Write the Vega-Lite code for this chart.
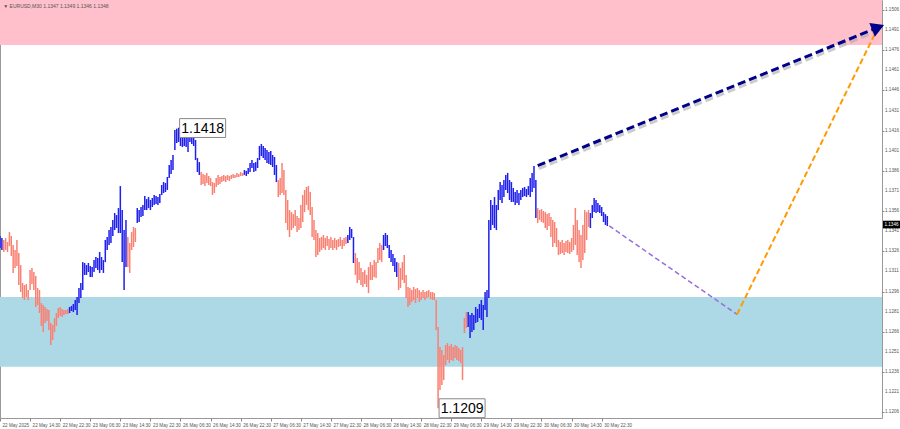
{
  "$schema": "https://vega.github.io/schema/vega-lite/v6.json",
  "autosize": "none",
  "padding": {"left": 0, "top": 0, "right": 18, "bottom": 11},
  "width": 882,
  "height": 418,
  "background": "white",
  "view": {"stroke": "#999999", "strokeWidth": 1},
  "title": {"text": "▼ EURUSD,M30  1.1347 1.1349 1.1346 1.1348", "anchor": "start", "orient": "top", "offset": -9, "dx": 4, "fontSize": 5, "font": "Liberation Sans", "fontWeight": "normal", "color": "#555555"},
  "config": {"font": "Liberation Sans", "axis": {"labelOverlap": false, "labelFlush": false, "labelBound": false}},
  "datasets": {
    "zones": [
      {"zone": "target", "lo": 1.1480, "hi": 1.1525},
      {"zone": "support", "lo": 1.1240, "hi": 1.1292}
    ],
    "yticks": [
      {"p": 1.1206}, {"p": 1.1221}, {"p": 1.1236}, {"p": 1.1251}, {"p": 1.1266}, {"p": 1.1281}, {"p": 1.1296}, {"p": 1.1311}, {"p": 1.1326}, {"p": 1.1341}, {"p": 1.1356},
      {"p": 1.1371}, {"p": 1.1386}, {"p": 1.1401}, {"p": 1.1416}, {"p": 1.1431}, {"p": 1.1446}, {"p": 1.1461}, {"p": 1.1476}, {"p": 1.1491}, {"p": 1.1506}
    ],
    "bars": [
      {"i":0,"h":1.13375,"l":1.13285,"w":"u"},{"i":1,"h":1.13360,"l":1.13270,"w":"u"},{"i":2,"h":1.13345,"l":1.13255,"w":"d"},{"i":3,"h":1.13360,"l":1.13270,"w":"d"},{"i":4,"h":1.13330,"l":1.13255,"w":"d"},{"i":5,"h":1.13404,"l":1.13300,"w":"d"},{"i":6,"h":1.13375,"l":1.13226,"w":"d"},{"i":7,"h":1.13307,"l":1.13099,"w":"d"},{"i":8,"h":1.13270,"l":1.13136,"w":"d"},{"i":9,"h":1.13345,"l":1.13151,"w":"d"},
      {"i":10,"h":1.13248,"l":1.13009,"w":"d"},{"i":11,"h":1.13158,"l":1.12957,"w":"d"},{"i":12,"h":1.13024,"l":1.12912,"w":"d"},{"i":13,"h":1.13009,"l":1.12897,"w":"d"},{"i":14,"h":1.13016,"l":1.12919,"w":"d"},{"i":15,"h":1.12972,"l":1.12897,"w":"d"},{"i":16,"h":1.13121,"l":1.12972,"w":"d"},{"i":17,"h":1.13136,"l":1.13016,"w":"d"},{"i":18,"h":1.13106,"l":1.12972,"w":"d"},{"i":19,"h":1.13077,"l":1.12845,"w":"d"},
      {"i":20,"h":1.12987,"l":1.12860,"w":"d"},{"i":21,"h":1.12972,"l":1.12800,"w":"d"},{"i":22,"h":1.12875,"l":1.12704,"w":"d"},{"i":23,"h":1.12860,"l":1.12658,"w":"d"},{"i":24,"h":1.12845,"l":1.12726,"w":"d"},{"i":25,"h":1.12830,"l":1.12741,"w":"d"},{"i":26,"h":1.12822,"l":1.12673,"w":"d"},{"i":27,"h":1.12726,"l":1.12561,"w":"d"},{"i":28,"h":1.12711,"l":1.12599,"w":"d"},{"i":29,"h":1.12763,"l":1.12658,"w":"d"},
      {"i":30,"h":1.12800,"l":1.12704,"w":"d"},{"i":31,"h":1.12838,"l":1.12763,"w":"d"},{"i":32,"h":1.12845,"l":1.12778,"w":"d"},{"i":33,"h":1.12830,"l":1.12770,"w":"d"},{"i":34,"h":1.12822,"l":1.12785,"w":"d"},{"i":35,"h":1.12822,"l":1.12792,"w":"d"},{"i":36,"h":1.12830,"l":1.12792,"w":"d"},{"i":37,"h":1.12845,"l":1.12800,"w":"u"},{"i":38,"h":1.12853,"l":1.12815,"w":"u"},{"i":39,"h":1.12867,"l":1.12807,"w":"u"},
      {"i":40,"h":1.12897,"l":1.12822,"w":"u"},{"i":41,"h":1.12919,"l":1.12785,"w":"u"},{"i":42,"h":1.12987,"l":1.12875,"w":"u"},{"i":43,"h":1.13024,"l":1.12912,"w":"u"},{"i":44,"h":1.13180,"l":1.12972,"w":"u"},{"i":45,"h":1.13173,"l":1.13084,"w":"u"},{"i":46,"h":1.13158,"l":1.13084,"w":"u"},{"i":47,"h":1.13173,"l":1.13106,"w":"u"},{"i":48,"h":1.13151,"l":1.13069,"w":"u"},{"i":49,"h":1.13143,"l":1.13069,"w":"u"},
      {"i":50,"h":1.13195,"l":1.13106,"w":"u"},{"i":51,"h":1.13218,"l":1.13136,"w":"u"},{"i":52,"h":1.13210,"l":1.13121,"w":"u"},{"i":53,"h":1.13255,"l":1.13099,"w":"u"},{"i":54,"h":1.13218,"l":1.13121,"w":"u"},{"i":55,"h":1.13195,"l":1.13099,"w":"u"},{"i":56,"h":1.13345,"l":1.13180,"w":"u"},{"i":57,"h":1.13367,"l":1.13270,"w":"u"},{"i":58,"h":1.13419,"l":1.13307,"w":"u"},{"i":59,"h":1.13442,"l":1.13322,"w":"u"},
      {"i":60,"h":1.13494,"l":1.13375,"w":"u"},{"i":61,"h":1.13546,"l":1.13419,"w":"u"},{"i":62,"h":1.13531,"l":1.13434,"w":"u"},{"i":63,"h":1.13583,"l":1.13397,"w":"u"},{"i":64,"h":1.13747,"l":1.13397,"w":"u"},{"i":65,"h":1.13568,"l":1.13180,"w":"u"},{"i":66,"h":1.13419,"l":1.12972,"w":"u"},{"i":67,"h":1.13494,"l":1.13143,"w":"u"},{"i":68,"h":1.13367,"l":1.13143,"w":"d"},{"i":69,"h":1.13322,"l":1.13099,"w":"d"},
      {"i":70,"h":1.13404,"l":1.13270,"w":"d"},{"i":71,"h":1.13442,"l":1.13292,"w":"d"},{"i":72,"h":1.13434,"l":1.13330,"w":"d"},{"i":73,"h":1.13583,"l":1.13472,"w":"u"},{"i":74,"h":1.13568,"l":1.13479,"w":"u"},{"i":75,"h":1.13591,"l":1.13516,"w":"u"},{"i":76,"h":1.13606,"l":1.13524,"w":"u"},{"i":77,"h":1.13673,"l":1.13568,"w":"u"},{"i":78,"h":1.13650,"l":1.13568,"w":"u"},{"i":79,"h":1.13665,"l":1.13583,"w":"u"},
      {"i":80,"h":1.13643,"l":1.13568,"w":"u"},{"i":81,"h":1.13658,"l":1.13591,"w":"u"},{"i":82,"h":1.13680,"l":1.13606,"w":"u"},{"i":83,"h":1.13673,"l":1.13613,"w":"u"},{"i":84,"h":1.13665,"l":1.13606,"w":"u"},{"i":85,"h":1.13688,"l":1.13621,"w":"u"},{"i":86,"h":1.13755,"l":1.13680,"w":"u"},{"i":87,"h":1.13777,"l":1.13695,"w":"u"},{"i":88,"h":1.13770,"l":1.13703,"w":"u"},{"i":89,"h":1.13815,"l":1.13718,"w":"u"},
      {"i":90,"h":1.13904,"l":1.13807,"w":"u"},{"i":91,"h":1.13941,"l":1.13837,"w":"u"},{"i":92,"h":1.13979,"l":1.13867,"w":"u"},{"i":93,"h":1.14165,"l":1.14016,"w":"u"},{"i":94,"h":1.14175,"l":1.14068,"w":"u"},{"i":95,"h":1.14182,"l":1.14076,"w":"u"},{"i":96,"h":1.14150,"l":1.14046,"w":"u"},{"i":97,"h":1.14128,"l":1.14038,"w":"u"},{"i":98,"h":1.14135,"l":1.14046,"w":"u"},{"i":99,"h":1.14120,"l":1.14038,"w":"u"},
      {"i":100,"h":1.14113,"l":1.14001,"w":"u"},{"i":101,"h":1.14165,"l":1.14076,"w":"u"},{"i":102,"h":1.14150,"l":1.14061,"w":"u"},{"i":103,"h":1.14128,"l":1.14046,"w":"u"},{"i":104,"h":1.14091,"l":1.13941,"w":"u"},{"i":105,"h":1.13956,"l":1.13852,"w":"u"},{"i":106,"h":1.13926,"l":1.13830,"w":"u"},{"i":107,"h":1.13852,"l":1.13755,"w":"d"},{"i":108,"h":1.13837,"l":1.13762,"w":"d"},{"i":109,"h":1.13830,"l":1.13747,"w":"d"},
      {"i":110,"h":1.13845,"l":1.13770,"w":"d"},{"i":111,"h":1.13822,"l":1.13755,"w":"d"},{"i":112,"h":1.13807,"l":1.13747,"w":"d"},{"i":113,"h":1.13777,"l":1.13680,"w":"d"},{"i":114,"h":1.13770,"l":1.13695,"w":"d"},{"i":115,"h":1.13807,"l":1.13740,"w":"d"},{"i":116,"h":1.13830,"l":1.13755,"w":"d"},{"i":117,"h":1.13815,"l":1.13762,"w":"d"},{"i":118,"h":1.13822,"l":1.13777,"w":"d"},{"i":119,"h":1.13830,"l":1.13785,"w":"d"},
      {"i":120,"h":1.13822,"l":1.13777,"w":"d"},{"i":121,"h":1.13830,"l":1.13792,"w":"d"},{"i":122,"h":1.13822,"l":1.13785,"w":"d"},{"i":123,"h":1.13830,"l":1.13800,"w":"d"},{"i":124,"h":1.13837,"l":1.13807,"w":"d"},{"i":125,"h":1.13830,"l":1.13807,"w":"d"},{"i":126,"h":1.13845,"l":1.13815,"w":"d"},{"i":127,"h":1.13837,"l":1.13815,"w":"d"},{"i":128,"h":1.13852,"l":1.13822,"w":"d"},{"i":129,"h":1.13845,"l":1.13822,"w":"d"},
      {"i":130,"h":1.13867,"l":1.13830,"w":"u"},{"i":131,"h":1.13860,"l":1.13822,"w":"u"},{"i":132,"h":1.13882,"l":1.13837,"w":"u"},{"i":133,"h":1.13919,"l":1.13852,"w":"u"},{"i":134,"h":1.13941,"l":1.13882,"w":"u"},{"i":135,"h":1.13919,"l":1.13852,"w":"u"},{"i":136,"h":1.13926,"l":1.13860,"w":"u"},{"i":137,"h":1.13956,"l":1.13882,"w":"u"},{"i":138,"h":1.14046,"l":1.13941,"w":"u"},{"i":139,"h":1.14061,"l":1.13971,"w":"u"},
      {"i":140,"h":1.14046,"l":1.13956,"w":"u"},{"i":141,"h":1.14031,"l":1.13941,"w":"u"},{"i":142,"h":1.14016,"l":1.13919,"w":"u"},{"i":143,"h":1.14001,"l":1.13911,"w":"u"},{"i":144,"h":1.14009,"l":1.13904,"w":"u"},{"i":145,"h":1.13979,"l":1.13889,"w":"u"},{"i":146,"h":1.13964,"l":1.13830,"w":"u"},{"i":147,"h":1.13904,"l":1.13777,"w":"u"},{"i":148,"h":1.13792,"l":1.13665,"w":"d"},{"i":149,"h":1.13807,"l":1.13680,"w":"d"},
      {"i":150,"h":1.13919,"l":1.13695,"w":"d"},{"i":151,"h":1.13867,"l":1.13680,"w":"d"},{"i":152,"h":1.13718,"l":1.13472,"w":"d"},{"i":153,"h":1.13643,"l":1.13419,"w":"d"},{"i":154,"h":1.13568,"l":1.13367,"w":"d"},{"i":155,"h":1.13553,"l":1.13419,"w":"d"},{"i":156,"h":1.13538,"l":1.13434,"w":"d"},{"i":157,"h":1.13568,"l":1.13449,"w":"d"},{"i":158,"h":1.13524,"l":1.13404,"w":"d"},{"i":159,"h":1.13509,"l":1.13419,"w":"d"},
      {"i":160,"h":1.13606,"l":1.13434,"w":"d"},{"i":161,"h":1.13680,"l":1.13479,"w":"d"},{"i":162,"h":1.13718,"l":1.13553,"w":"d"},{"i":163,"h":1.13740,"l":1.13606,"w":"d"},{"i":164,"h":1.13747,"l":1.13568,"w":"d"},{"i":165,"h":1.13703,"l":1.13531,"w":"d"},{"i":166,"h":1.13591,"l":1.13367,"w":"d"},{"i":167,"h":1.13494,"l":1.13345,"w":"d"},{"i":168,"h":1.13419,"l":1.13218,"w":"d"},{"i":169,"h":1.13397,"l":1.13233,"w":"d"},
      {"i":170,"h":1.13360,"l":1.13255,"w":"d"},{"i":171,"h":1.13367,"l":1.13270,"w":"d"},{"i":172,"h":1.13382,"l":1.13285,"w":"d"},{"i":173,"h":1.13360,"l":1.13270,"w":"d"},{"i":174,"h":1.13375,"l":1.13300,"w":"d"},{"i":175,"h":1.13352,"l":1.13270,"w":"d"},{"i":176,"h":1.13367,"l":1.13285,"w":"d"},{"i":177,"h":1.13345,"l":1.13270,"w":"d"},{"i":178,"h":1.13360,"l":1.13285,"w":"d"},{"i":179,"h":1.13345,"l":1.13270,"w":"d"},
      {"i":180,"h":1.13352,"l":1.13292,"w":"d"},{"i":181,"h":1.13367,"l":1.13300,"w":"d"},{"i":182,"h":1.13345,"l":1.13277,"w":"d"},{"i":183,"h":1.13360,"l":1.13300,"w":"d"},{"i":184,"h":1.13367,"l":1.13315,"w":"d"},{"i":185,"h":1.13382,"l":1.13322,"w":"u"},{"i":186,"h":1.13442,"l":1.13345,"w":"u"},{"i":187,"h":1.13427,"l":1.13360,"w":"u"},{"i":188,"h":1.13367,"l":1.13173,"w":"u"},{"i":189,"h":1.13248,"l":1.13084,"w":"d"},
      {"i":190,"h":1.13210,"l":1.13024,"w":"d"},{"i":191,"h":1.13180,"l":1.13046,"w":"d"},{"i":192,"h":1.13136,"l":1.13009,"w":"d"},{"i":193,"h":1.13106,"l":1.12994,"w":"d"},{"i":194,"h":1.13121,"l":1.13016,"w":"d"},{"i":195,"h":1.13084,"l":1.12994,"w":"d"},{"i":196,"h":1.13143,"l":1.12949,"w":"d"},{"i":197,"h":1.13180,"l":1.13046,"w":"d"},{"i":198,"h":1.13158,"l":1.13046,"w":"d"},{"i":199,"h":1.13195,"l":1.13069,"w":"d"},
      {"i":200,"h":1.13180,"l":1.13061,"w":"d"},{"i":201,"h":1.13285,"l":1.13173,"w":"d"},{"i":202,"h":1.13322,"l":1.13195,"w":"d"},{"i":203,"h":1.13307,"l":1.13180,"w":"d"},{"i":204,"h":1.13382,"l":1.13270,"w":"u"},{"i":205,"h":1.13397,"l":1.13300,"w":"u"},{"i":206,"h":1.13382,"l":1.13285,"w":"u"},{"i":207,"h":1.13307,"l":1.13210,"w":"u"},{"i":208,"h":1.13270,"l":1.13180,"w":"u"},{"i":209,"h":1.13240,"l":1.13151,"w":"u"},
      {"i":210,"h":1.13210,"l":1.13106,"w":"u"},{"i":211,"h":1.13180,"l":1.13069,"w":"u"},{"i":212,"h":1.13173,"l":1.12972,"w":"d"},{"i":213,"h":1.13136,"l":1.12987,"w":"d"},{"i":214,"h":1.13180,"l":1.13046,"w":"d"},{"i":215,"h":1.13233,"l":1.13024,"w":"d"},{"i":216,"h":1.13084,"l":1.12912,"w":"d"},{"i":217,"h":1.12994,"l":1.12845,"w":"d"},{"i":218,"h":1.12987,"l":1.12860,"w":"d"},{"i":219,"h":1.12972,"l":1.12882,"w":"d"},
      {"i":220,"h":1.12994,"l":1.12897,"w":"d"},{"i":221,"h":1.12979,"l":1.12875,"w":"d"},{"i":222,"h":1.12987,"l":1.12912,"w":"d"},{"i":223,"h":1.12972,"l":1.12882,"w":"d"},{"i":224,"h":1.12957,"l":1.12897,"w":"d"},{"i":225,"h":1.12972,"l":1.12912,"w":"d"},{"i":226,"h":1.12957,"l":1.12897,"w":"d"},{"i":227,"h":1.12964,"l":1.12912,"w":"d"},{"i":228,"h":1.12972,"l":1.12919,"w":"d"},{"i":229,"h":1.12957,"l":1.12904,"w":"d"},
      {"i":230,"h":1.12957,"l":1.12897,"w":"d"},{"i":231,"h":1.12949,"l":1.12897,"w":"d"},{"i":232,"h":1.12897,"l":1.12673,"w":"d"},{"i":233,"h":1.12696,"l":1.12090,"w":"d"},{"i":234,"h":1.12546,"l":1.12226,"w":"d"},{"i":235,"h":1.12524,"l":1.12263,"w":"d"},{"i":236,"h":1.12487,"l":1.12300,"w":"d"},{"i":237,"h":1.12561,"l":1.12412,"w":"d"},{"i":238,"h":1.12576,"l":1.12449,"w":"d"},{"i":239,"h":1.12554,"l":1.12427,"w":"d"},
      {"i":240,"h":1.12569,"l":1.12449,"w":"d"},{"i":241,"h":1.12546,"l":1.12442,"w":"d"},{"i":242,"h":1.12561,"l":1.12464,"w":"d"},{"i":243,"h":1.12554,"l":1.12449,"w":"d"},{"i":244,"h":1.12539,"l":1.12442,"w":"d"},{"i":245,"h":1.12524,"l":1.12427,"w":"d"},{"i":246,"h":1.12546,"l":1.12300,"w":"d"},{"i":247,"h":1.12763,"l":1.12651,"w":"d"},{"i":248,"h":1.12807,"l":1.12688,"w":"d"},{"i":249,"h":1.12807,"l":1.12696,"w":"u"},
      {"i":250,"h":1.12785,"l":1.12614,"w":"u"},{"i":251,"h":1.12800,"l":1.12658,"w":"u"},{"i":252,"h":1.12785,"l":1.12673,"w":"u"},{"i":253,"h":1.12845,"l":1.12726,"w":"u"},{"i":254,"h":1.12830,"l":1.12733,"w":"u"},{"i":255,"h":1.12867,"l":1.12763,"w":"u"},{"i":256,"h":1.12897,"l":1.12748,"w":"u"},{"i":257,"h":1.12860,"l":1.12673,"w":"u"},{"i":258,"h":1.12957,"l":1.12822,"w":"u"},{"i":259,"h":1.12972,"l":1.12770,"w":"u"},
      {"i":260,"h":1.13494,"l":1.12912,"w":"u"},{"i":261,"h":1.13643,"l":1.13419,"w":"u"},{"i":262,"h":1.13606,"l":1.13457,"w":"u"},{"i":263,"h":1.13665,"l":1.13434,"w":"u"},{"i":264,"h":1.13606,"l":1.13419,"w":"u"},{"i":265,"h":1.13718,"l":1.13568,"w":"u"},{"i":266,"h":1.13777,"l":1.13643,"w":"u"},{"i":267,"h":1.13755,"l":1.13621,"w":"u"},{"i":268,"h":1.13792,"l":1.13665,"w":"u"},{"i":269,"h":1.13830,"l":1.13718,"w":"u"},
      {"i":270,"h":1.13845,"l":1.13695,"w":"u"},{"i":271,"h":1.13792,"l":1.13643,"w":"u"},{"i":272,"h":1.13777,"l":1.13628,"w":"u"},{"i":273,"h":1.13733,"l":1.13628,"w":"u"},{"i":274,"h":1.13703,"l":1.13606,"w":"u"},{"i":275,"h":1.13718,"l":1.13621,"w":"u"},{"i":276,"h":1.13695,"l":1.13606,"w":"u"},{"i":277,"h":1.13718,"l":1.13643,"w":"u"},{"i":278,"h":1.13733,"l":1.13665,"w":"u"},{"i":279,"h":1.13740,"l":1.13673,"w":"u"},
      {"i":280,"h":1.13725,"l":1.13665,"w":"u"},{"i":281,"h":1.13747,"l":1.13680,"w":"u"},{"i":282,"h":1.13807,"l":1.13665,"w":"u"},{"i":283,"h":1.13845,"l":1.13703,"w":"u"},{"i":284,"h":1.13897,"l":1.13733,"w":"u"},{"i":285,"h":1.13792,"l":1.13509,"w":"u"},{"i":286,"h":1.13583,"l":1.13472,"w":"d"},{"i":287,"h":1.13568,"l":1.13494,"w":"d"},{"i":288,"h":1.13576,"l":1.13479,"w":"d"},{"i":289,"h":1.13561,"l":1.13472,"w":"d"},
      {"i":290,"h":1.13553,"l":1.13434,"w":"d"},{"i":291,"h":1.13538,"l":1.13419,"w":"d"},{"i":292,"h":1.13546,"l":1.13449,"w":"d"},{"i":293,"h":1.13516,"l":1.13367,"w":"d"},{"i":294,"h":1.13494,"l":1.13292,"w":"d"},{"i":295,"h":1.13479,"l":1.13322,"w":"d"},{"i":296,"h":1.13434,"l":1.13292,"w":"d"},{"i":297,"h":1.13345,"l":1.13233,"w":"d"},{"i":298,"h":1.13330,"l":1.13240,"w":"d"},{"i":299,"h":1.13345,"l":1.13248,"w":"d"},
      {"i":300,"h":1.13322,"l":1.13233,"w":"d"},{"i":301,"h":1.13337,"l":1.13255,"w":"d"},{"i":302,"h":1.13345,"l":1.13248,"w":"d"},{"i":303,"h":1.13330,"l":1.13240,"w":"d"},{"i":304,"h":1.13360,"l":1.13255,"w":"d"},{"i":305,"h":1.13457,"l":1.13270,"w":"d"},{"i":306,"h":1.13583,"l":1.13307,"w":"d"},{"i":307,"h":1.13494,"l":1.13233,"w":"d"},{"i":308,"h":1.13419,"l":1.13180,"w":"d"},{"i":309,"h":1.13382,"l":1.13136,"w":"d"},
      {"i":310,"h":1.13457,"l":1.13195,"w":"d"},{"i":311,"h":1.13568,"l":1.13248,"w":"d"},{"i":312,"h":1.13553,"l":1.13345,"w":"d"},{"i":313,"h":1.13568,"l":1.13442,"w":"d"},{"i":314,"h":1.13546,"l":1.13434,"w":"u"},{"i":315,"h":1.13606,"l":1.13509,"w":"u"},{"i":316,"h":1.13658,"l":1.13553,"w":"u"},{"i":317,"h":1.13643,"l":1.13546,"w":"u"},{"i":318,"h":1.13621,"l":1.13553,"w":"u"},{"i":319,"h":1.13606,"l":1.13546,"w":"u"},
      {"i":320,"h":1.13591,"l":1.13524,"w":"u"},{"i":321,"h":1.13553,"l":1.13479,"w":"u"},{"i":322,"h":1.13538,"l":1.13457,"w":"u"},{"i":323,"h":1.13524,"l":1.13449,"w":"u"}
    ],
    "paths": [
      {"seg": "navy", "i": 286, "p": 1.1390},
      {"seg": "navy", "i": 467, "p": 1.1493},
      {"seg": "orange", "i": 392, "p": 1.1279},
      {"seg": "orange", "i": 467, "p": 1.1493},
      {"seg": "purple", "i": 324, "p": 1.1345},
      {"seg": "purple", "i": 392, "p": 1.1279}
    ],
    "labels": [
      {"i": 95, "p": 1.1418, "t": "1.1418"},
      {"i": 233, "p": 1.1209, "t": "1.1209"}
    ],
    "price": [
      {"p": 1.1346, "t": "1.1346"}
    ]
  },
  "layer": [
    {
      "data": {"name": "zones"},
      "mark": {"type": "rect", "clip": true},
      "encoding": {
        "y": {"field": "lo", "type": "quantitative", "scale": {"domain": [1.12017, 1.15135], "nice": false, "zero": false},
          "axis": {"orient": "right", "values": [1.1206,1.1221,1.1236,1.1251,1.1266,1.1281,1.1296,1.1311,1.1326,1.1341,1.1356,1.1371,1.1386,1.1401,1.1416,1.1431,1.1446,1.1461,1.1476,1.1491,1.1506], "labels": false, "title": null, "grid": false, "domain": false, "tickSize": 2, "tickColor": "#888888"}},
        "y2": {"field": "hi"},
        "color": {"field": "zone", "type": "nominal", "scale": {"domain": ["target", "support"], "range": ["pink", "lightblue"]}, "legend": null}
      }
    },
    {
      "data": {"name": "bars"},
      "mark": {"type": "rule", "strokeWidth": 1.5},
      "encoding": {
        "x": {"field": "i", "type": "quantitative", "scale": {"domain": [0, 469.1], "nice": false, "zero": false},
          "axis": {"values": [0,16,32,48,64,80,96,112,128,144,160,176,192,208,224,240,256,272,288,304,320], "labelExpr": "['22 May 2025','22 May 14:30','22 May 22:30','23 May 06:30','23 May 14:30','23 May 22:30','26 May 06:30','26 May 14:30','26 May 22:30','27 May 06:30','27 May 14:30','27 May 22:30','28 May 06:30','28 May 14:30','28 May 22:30','29 May 06:30','29 May 14:30','29 May 22:30','30 May 06:30','30 May 14:30','30 May 22:30'][round(datum.value/16)]", "title": null, "grid": false, "domain": false, "labelAlign": "left", "labelFontSize": 4.6, "labelColor": "#555555", "tickSize": 3, "tickColor": "#888888", "labelPadding": 1, "labelOffset": 2, "labelOverlap": false, "labelFlush": false, "labelBound": false}},
        "y": {"field": "h", "type": "quantitative"},
        "y2": {"field": "l"},
        "stroke": {"field": "w", "type": "nominal", "scale": {"domain": ["u", "d"], "range": ["#1f1fee", "salmon"]}, "legend": null}
      }
    },
    {
      "data": {"name": "yticks"},
      "mark": {"type": "text", "fontSize": 4.6, "color": "#555555", "align": "left", "baseline": "middle", "dx": 3},
      "encoding": {"x": {"datum": 469.1}, "y": {"field": "p", "type": "quantitative"}, "text": {"field": "p", "type": "quantitative", "format": ".4f"}}
    },
    {
      "data": {"name": "paths"},
      "transform": [{"filter": "datum.seg == 'purple'"}],
      "mark": {"type": "line", "color": "#9a6ddb", "strokeWidth": 1.5, "strokeDash": [5, 3]},
      "encoding": {"x": {"field": "i", "type": "quantitative"}, "y": {"field": "p", "type": "quantitative"}}
    },
    {
      "data": {"name": "paths"},
      "transform": [{"filter": "datum.seg == 'orange'"}],
      "mark": {"type": "line", "color": "#ff9a00", "strokeWidth": 2, "strokeDash": [6, 3]},
      "encoding": {"x": {"field": "i", "type": "quantitative"}, "y": {"field": "p", "type": "quantitative"}}
    },
    {
      "data": {"name": "paths"},
      "transform": [{"filter": "datum.seg == 'navy'"}],
      "mark": {"type": "line", "color": "#aaaaaa", "strokeWidth": 3, "strokeDash": [8, 4], "xOffset": 1, "yOffset": 3, "opacity": 0.6},
      "encoding": {"x": {"field": "i", "type": "quantitative"}, "y": {"field": "p", "type": "quantitative"}}
    },
    {
      "data": {"name": "paths"},
      "transform": [{"filter": "datum.seg == 'navy'"}],
      "mark": {"type": "line", "color": "#00008b", "strokeWidth": 3, "strokeDash": [8, 4]},
      "encoding": {"x": {"field": "i", "type": "quantitative"}, "y": {"field": "p", "type": "quantitative"}}
    },
    {
      "data": {"name": "paths"},
      "transform": [{"filter": "datum.seg == 'navy' && datum.i == 467"}],
      "mark": {"type": "point", "shape": "triangle-up", "filled": true, "color": "#00008b", "size": 220, "angle": 68, "opacity": 1},
      "encoding": {"x": {"field": "i", "type": "quantitative"}, "y": {"field": "p", "type": "quantitative"}}
    },
    {
      "data": {"name": "labels"},
      "mark": {"type": "point", "shape": "M-1,-0.41L1,-0.41L1,0.41L-1,0.41Z", "filled": true, "fill": "white", "stroke": "#888888", "strokeWidth": 1, "size": 2116, "opacity": 1, "xOffset": 24},
      "encoding": {"x": {"field": "i", "type": "quantitative"}, "y": {"field": "p", "type": "quantitative"}}
    },
    {
      "data": {"name": "labels"},
      "mark": {"type": "text", "font": "Liberation Sans", "fontSize": 14, "color": "black", "align": "center", "baseline": "middle", "dx": 24, "dy": 1},
      "encoding": {"x": {"field": "i", "type": "quantitative"}, "y": {"field": "p", "type": "quantitative"}, "text": {"field": "t"}}
    },
    {
      "data": {"name": "price"},
      "mark": {"type": "point", "shape": "M-1,-0.45L1,-0.45L1,0.45L-1,0.45Z", "filled": true, "fill": "black", "size": 289, "opacity": 1, "xOffset": 9.5},
      "encoding": {"x": {"datum": 469.1}, "y": {"field": "p", "type": "quantitative"}}
    },
    {
      "data": {"name": "price"},
      "mark": {"type": "text", "fontSize": 4.6, "color": "white", "align": "center", "baseline": "middle", "dx": 9.5},
      "encoding": {"x": {"datum": 469.1}, "y": {"field": "p", "type": "quantitative"}, "text": {"field": "t"}}
    }
  ]
}
